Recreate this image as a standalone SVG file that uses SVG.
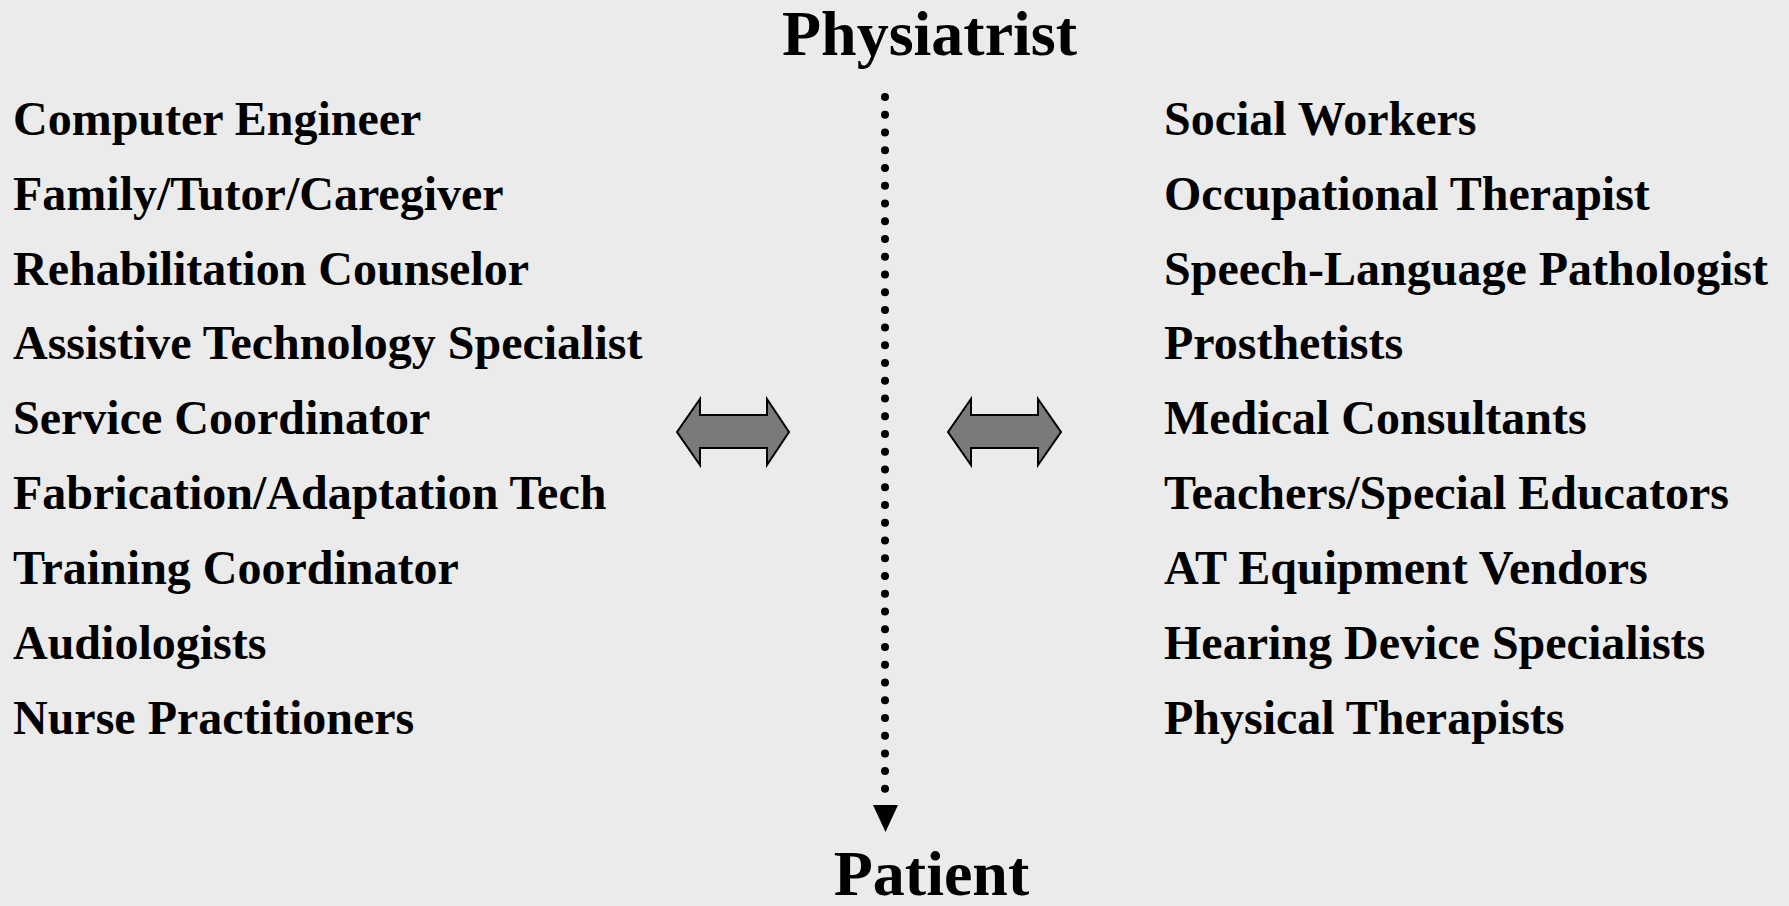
<svg xmlns="http://www.w3.org/2000/svg" width="1789" height="906" viewBox="0 0 1789 906">
<style>
text{font-family:"Liberation Serif","Times New Roman",serif;font-weight:bold;fill:#000}
.t{font-size:64px}
.l{font-size:48px}
.dbl{fill:#7a7a7a;stroke:#000;stroke-width:2;stroke-linejoin:miter}
</style>
<rect width="1789" height="906" fill="#ebebeb"/>
<g id="physiatrist"><text class="t" x="929.5" y="55" text-anchor="middle">Physiatrist</text></g>
<g id="patient"><text class="t" x="931.5" y="895" text-anchor="middle">Patient</text></g>
<g id="left-list">
<text class="l" x="13" y="135">Computer Engineer</text>
<text class="l" x="13" y="210">Family/Tutor/Caregiver</text>
<text class="l" x="13" y="285">Rehabilitation Counselor</text>
<text class="l" x="13" y="359">Assistive Technology Specialist</text>
<text class="l" x="13" y="434">Service Coordinator</text>
<text class="l" x="13" y="509">Fabrication/Adaptation Tech</text>
<text class="l" x="13" y="584">Training Coordinator</text>
<text class="l" x="13" y="659">Audiologists</text>
<text class="l" x="13" y="734">Nurse Practitioners</text>
</g>
<g id="right-list">
<text class="l" x="1164" y="135">Social Workers</text>
<text class="l" x="1164" y="210">Occupational Therapist</text>
<text class="l" x="1164" y="285">Speech-Language Pathologist</text>
<text class="l" x="1164" y="359">Prosthetists</text>
<text class="l" x="1164" y="434">Medical Consultants</text>
<text class="l" x="1164" y="509">Teachers/Special Educators</text>
<text class="l" x="1164" y="584">AT Equipment Vendors</text>
<text class="l" x="1164" y="659">Hearing Device Specialists</text>
<text class="l" x="1164" y="734">Physical Therapists</text>
</g>
<g id="left-arrow"><polygon class="dbl" points="677,432 700,399 700,415 767,415 767,399 789,432 767,465 767,448 700,448 700,465"/></g>
<g id="right-arrow"><polygon class="dbl" points="948,432 971,399 971,415 1038,415 1038,399 1061,432 1038,465 1038,448 971,448 971,465"/></g>
<g id="connectors">
<line x1="885" y1="97" x2="885" y2="790" stroke="#000" stroke-width="8" stroke-linecap="round" stroke-dasharray="0 17.74"/>
<polygon points="873,805 898,805 885.5,832" fill="#000"/>
</g>
</svg>
